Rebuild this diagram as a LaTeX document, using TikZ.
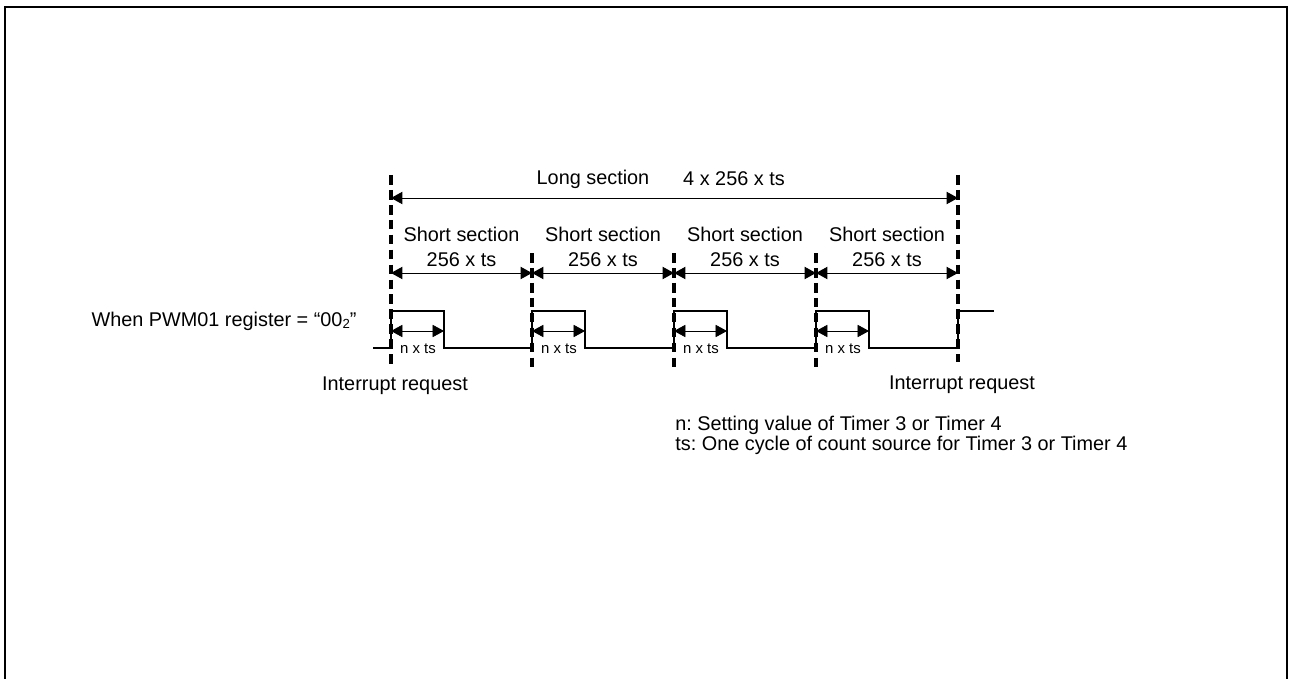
\documentclass[tikz,border=0pt]{standalone}
\usepackage{fontspec}
\setmainfont{Liberation Sans}
\usetikzlibrary{arrows.meta}
\frenchspacing

\begin{document}
\begin{tikzpicture}[x=0.02cm,y=-0.02cm,
  every node/.style={font=\fontsize{11.3}{14.2}\selectfont},
  bound/.style={line width=1.8pt,dash pattern=on 5.5pt off 3pt},
  wave/.style={line width=1.1pt},
  span/.style={line width=0.55pt,
    {Triangle[length=6.5pt,width=7pt]}-{Triangle[length=6.5pt,width=7pt]}},
  small/.style={font=\fontsize{8.5}{10}\selectfont,inner sep=0pt}]
\useasboundingbox (0,0) rectangle (1289,679);
\draw[line width=1.2pt] (5,679) -- (5,7) -- (1287,7) -- (1287,679);

\newcommand{\shortsection}[3]{%
  \coordinate (sl#3) at (#1,273);
  \coordinate (sr#3) at (#2,273);
  \draw[span] (sl#3) -- (sr#3);
  \node[align=center,inner sep=0pt] (lbl#3) at ({(#1+#2)/2},246.5)
    {Short section\\256 x ts};
  \draw[wave] (#1,348) -- (#1,311) -- ++(53,0) -- ++(0,37) -- (#2,348);
  \coordinate (na#3) at (#1,331);
  \coordinate (nb#3) at ({#1+53},331);
  \draw[span,line width=0.45pt] (na#3) -- (nb#3);
  \node[small] (n#3) at ({#1+27},349) {n x ts};}

% section boundaries
\coordinate (top0) at (391,175); \coordinate (bot0) at (391,365);
\coordinate (top1) at (532,253); \coordinate (bot1) at (532,368);
\coordinate (top2) at (674,253); \coordinate (bot2) at (674,368);
\coordinate (top3) at (816,253); \coordinate (bot3) at (816,368);
\coordinate (top4) at (958,175); \coordinate (bot4) at (958,362);

% long section
\coordinate (la) at (391,198);
\coordinate (lb) at (958,198);
\draw[span] (la) -- (lb);
\node[inner sep=0pt] (long) at (593,179) {Long section};
\node[inner sep=0pt] (longval) at (734,179) {4 x 256 x ts};

\shortsection{391}{532}{1}
\shortsection{532}{674}{2}
\shortsection{674}{816}{3}
\shortsection{816}{958}{4}

\draw[wave] (373,348) -- (391,348);
\draw[wave] (958,348) -- (958,311) -- (994,311);

\draw[bound] (top0) -- (bot0);
\draw[bound] (top1) -- (bot1);
\draw[bound] (top2) -- (bot2);
\draw[bound] (top3) -- (bot3);
\draw[bound] (top4) -- (bot4);

\node[inner sep=0pt] (pwm) at (224,321)
  {When PWM01 register = “00\raisebox{-0.2ex}{\fontsize{7.5}{8}\selectfont 2}”};
\node[inner sep=0pt] (irq0) at (395,386) {Interrupt request};
\node[inner sep=0pt] (irq4) at (962,385) {Interrupt request};
\node[anchor=west,align=left,inner sep=0pt,font=\fontsize{11.3}{11.5}\selectfont]
  (notes) at (675,435)
  {n: Setting value of Timer 3 or Timer 4\\ts: One cycle of count source for Timer 3 or Timer 4};
\end{tikzpicture}
\end{document}
